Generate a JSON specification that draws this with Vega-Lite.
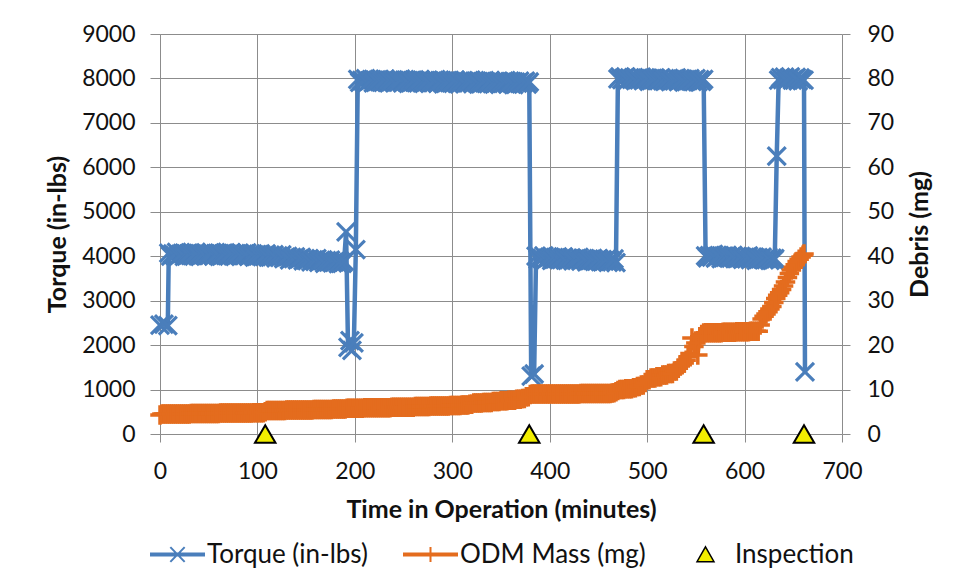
{
  "$schema": "https://vega.github.io/schema/vega-lite/v6.json",
  "width": 682,
  "height": 400,
  "autosize": "none",
  "padding": {"left": 160, "top": 34, "right": 118, "bottom": 147},
  "background": "white",
  "config": {
    "font": "Lato",
    "view": {"stroke": null},
    "axis": {
      "labelFont": "Lato", "labelFontSize": 23, "labelColor": "#111111",
      "titleFont": "Lato", "titleFontSize": 25, "titleFontWeight": "bold", "titleColor": "#111111",
      "gridColor": "#8c8c8c", "gridWidth": 1, "gridOpacity": 1,
      "domainColor": "#8c8c8c", "tickColor": "#8c8c8c", "domainWidth": 1, "tickWidth": 1
    },
    "legend": {
      "orient": "none", "direction": "horizontal", "title": null, "padding": 0,
      "labelFont": "Lato", "labelFontSize": 26, "labelColor": "#111111", "labelOffset": 2, "labelLimit": 400,
      "symbolSize": 2809, "symbolStrokeWidth": 2, "symbolOpacity": 1
    }
  },
  "datasets": {
    "torque": [
      {"t":0,"v":2450},{"t":4,"v":2470},{"t":8,"v":2440},
      {"t":9,"v":4070},{"t":11,"v":4000},{"t":13,"v":4050},{"t":15,"v":4020},{"t":17,"v":4085},{"t":19,"v":4005},{"t":21,"v":4040},{"t":23,"v":4065},{"t":25,"v":3995},{"t":27,"v":4055},
      {"t":29,"v":4030},{"t":31,"v":4075},{"t":33,"v":4015},{"t":35,"v":4045},{"t":37,"v":4080},{"t":39,"v":4010},{"t":41,"v":4060},{"t":43,"v":4025},{"t":45,"v":4070},{"t":47,"v":4000},
      {"t":49,"v":4050},{"t":51,"v":4020},{"t":53,"v":4085},{"t":55,"v":4005},{"t":57,"v":4040},{"t":59,"v":4065},{"t":61,"v":3995},{"t":63,"v":4055},{"t":65,"v":4030},{"t":67,"v":4075},
      {"t":69,"v":4015},{"t":71,"v":4045},{"t":73,"v":4080},{"t":75,"v":4010},{"t":77,"v":4060},{"t":79,"v":4025},{"t":81,"v":4069},{"t":83,"v":3997},{"t":85,"v":4045},{"t":87,"v":4013},
      {"t":89,"v":4076},{"t":91,"v":3994},{"t":93,"v":4027},{"t":95,"v":4050},{"t":97,"v":3978},{"t":99,"v":4036},{"t":101,"v":4009},{"t":103,"v":4052},{"t":105,"v":3990},{"t":107,"v":4018},
      {"t":109,"v":4051},{"t":111,"v":3979},{"t":113,"v":4027},{"t":115,"v":3990},{"t":117,"v":4033},{"t":119,"v":3961},{"t":121,"v":4007},{"t":123,"v":3972},{"t":125,"v":4032},{"t":127,"v":3946},
      {"t":129,"v":3976},{"t":131,"v":3996},{"t":133,"v":3920},{"t":135,"v":3975},{"t":137,"v":3945},{"t":139,"v":3984},{"t":141,"v":3919},{"t":143,"v":3944},{"t":145,"v":3973},{"t":147,"v":3898},
      {"t":149,"v":3943},{"t":151,"v":3903},{"t":153,"v":3945},{"t":155,"v":3871},{"t":157,"v":3918},{"t":159,"v":3884},{"t":161,"v":3946},{"t":163,"v":3862},{"t":165,"v":3894},{"t":167,"v":3915},
      {"t":169,"v":3842},{"t":171,"v":3898},{"t":173,"v":3870},{"t":175,"v":3911},{"t":177,"v":3848},{"t":179,"v":3874},{"t":181,"v":3906},{"t":183,"v":3832},{"t":185,"v":3879},{"t":187,"v":3840},
      {"t":189,"v":3882},
      {"t":191,"v":4550},{"t":193,"v":1950},{"t":195,"v":2100},{"t":197,"v":1880},{"t":199,"v":2050},{"t":201,"v":4150},
      {"t":203,"v":7980},{"t":205,"v":7909},{"t":207,"v":7959},{"t":209,"v":7928},{"t":211,"v":7993},{"t":213,"v":7912},{"t":215,"v":7947},{"t":217,"v":7971},{"t":219,"v":7900},{"t":221,"v":7960},
      {"t":223,"v":7934},{"t":225,"v":7979},{"t":227,"v":7918},{"t":229,"v":7948},{"t":231,"v":7982},{"t":233,"v":7911},{"t":235,"v":7961},{"t":237,"v":7925},{"t":239,"v":7970},{"t":241,"v":7899},
      {"t":243,"v":7949},{"t":245,"v":7918},{"t":247,"v":7982},{"t":249,"v":7902},{"t":251,"v":7936},{"t":253,"v":7961},{"t":255,"v":7890},{"t":257,"v":7950},{"t":259,"v":7924},{"t":261,"v":7968},
      {"t":263,"v":7908},{"t":265,"v":7937},{"t":267,"v":7972},{"t":269,"v":7901},{"t":271,"v":7951},{"t":273,"v":7915},{"t":275,"v":7960},{"t":277,"v":7889},{"t":279,"v":7938},{"t":281,"v":7908},
      {"t":283,"v":7972},{"t":285,"v":7892},{"t":287,"v":7926},{"t":289,"v":7951},{"t":291,"v":7880},{"t":293,"v":7939},{"t":295,"v":7914},{"t":297,"v":7958},{"t":299,"v":7898},{"t":301,"v":7927},
      {"t":303,"v":7962},{"t":305,"v":7891},{"t":307,"v":7940},{"t":309,"v":7905},{"t":311,"v":7949},{"t":313,"v":7879},{"t":315,"v":7928},{"t":317,"v":7898},{"t":319,"v":7962},{"t":321,"v":7881},
      {"t":323,"v":7916},{"t":325,"v":7940},{"t":327,"v":7870},{"t":329,"v":7929},{"t":331,"v":7904},{"t":333,"v":7948},{"t":335,"v":7887},{"t":337,"v":7917},{"t":339,"v":7951},{"t":341,"v":7881},
      {"t":343,"v":7930},{"t":345,"v":7895},{"t":347,"v":7939},{"t":349,"v":7868},{"t":351,"v":7918},{"t":353,"v":7887},{"t":355,"v":7952},{"t":357,"v":7871},{"t":359,"v":7906},{"t":361,"v":7930},
      {"t":363,"v":7859},{"t":365,"v":7919},{"t":367,"v":7893},{"t":369,"v":7938},{"t":371,"v":7877},{"t":373,"v":7906},{"t":375,"v":7941},{"t":377,"v":7870},{"t":379,"v":7920},
      {"t":381,"v":1300},{"t":384,"v":1350},
      {"t":386,"v":4000},{"t":388,"v":3928},{"t":390,"v":3976},{"t":392,"v":3944},{"t":394,"v":4007},{"t":396,"v":3925},{"t":398,"v":3958},{"t":400,"v":3981},{"t":402,"v":3909},{"t":404,"v":3967},
      {"t":406,"v":3941},{"t":408,"v":3984},{"t":410,"v":3922},{"t":412,"v":3950},{"t":414,"v":3983},{"t":416,"v":3911},{"t":418,"v":3959},{"t":420,"v":3922},{"t":422,"v":3965},{"t":424,"v":3893},
      {"t":426,"v":3941},{"t":428,"v":3909},{"t":430,"v":3973},{"t":432,"v":3891},{"t":434,"v":3924},{"t":436,"v":3947},{"t":438,"v":3875},{"t":440,"v":3933},{"t":442,"v":3906},{"t":444,"v":3949},
      {"t":446,"v":3887},{"t":448,"v":3915},{"t":450,"v":3948},{"t":452,"v":3876},{"t":454,"v":3924},{"t":456,"v":3888},{"t":458,"v":3931},{"t":460,"v":3859},{"t":462,"v":3907},{"t":464,"v":3875},
      {"t":466,"v":3938},{"t":468,"v":3856},
      {"t":470,"v":7990},{"t":472,"v":8034},{"t":474,"v":7973},{"t":476,"v":8002},{"t":478,"v":8035},{"t":480,"v":7964},{"t":482,"v":8013},{"t":484,"v":7977},{"t":486,"v":8021},{"t":488,"v":7950},
      {"t":490,"v":7999},{"t":492,"v":7967},{"t":494,"v":8031},{"t":496,"v":7950},{"t":498,"v":7984},{"t":500,"v":8008},{"t":502,"v":7937},{"t":504,"v":7996},{"t":506,"v":7970},{"t":508,"v":8013},
      {"t":510,"v":7952},{"t":512,"v":7981},{"t":514,"v":8015},{"t":516,"v":7944},{"t":518,"v":7993},{"t":520,"v":7957},{"t":522,"v":8000},{"t":524,"v":7929},{"t":526,"v":7978},{"t":528,"v":7947},
      {"t":530,"v":8011},{"t":532,"v":7930},{"t":534,"v":7964},{"t":536,"v":7987},{"t":538,"v":7916},{"t":540,"v":7975},{"t":542,"v":7949},{"t":544,"v":7993},{"t":546,"v":7932},{"t":548,"v":7961},
      {"t":550,"v":7995},{"t":552,"v":7923},{"t":554,"v":7972},{"t":556,"v":7936},{"t":558,"v":7980},
      {"t":560,"v":4010},{"t":562,"v":3963},{"t":564,"v":4011},{"t":566,"v":3979},{"t":568,"v":4042},{"t":570,"v":3960},{"t":572,"v":3993},{"t":574,"v":4016},{"t":576,"v":3944},{"t":578,"v":4002},
      {"t":580,"v":3975},{"t":582,"v":4018},{"t":584,"v":3956},{"t":586,"v":3984},{"t":588,"v":4017},{"t":590,"v":3945},{"t":592,"v":3993},{"t":594,"v":3956},{"t":596,"v":3999},{"t":598,"v":3927},
      {"t":600,"v":3975},{"t":602,"v":3943},{"t":604,"v":4006},{"t":606,"v":3924},{"t":608,"v":3957},{"t":610,"v":3980},{"t":612,"v":3908},{"t":614,"v":3966},{"t":616,"v":3939},{"t":618,"v":3982},
      {"t":620,"v":3920},{"t":622,"v":3948},{"t":624,"v":3981},{"t":626,"v":3909},{"t":628,"v":3957},{"t":630,"v":3920},{"t":631,"v":3945},
      {"t":633,"v":6250},
      {"t":635,"v":7960},{"t":637,"v":8020},{"t":639,"v":7975},{"t":641,"v":8030},{"t":643,"v":7950},{"t":645,"v":8000},{"t":647,"v":8035},{"t":649,"v":7965},{"t":651,"v":7990},{"t":653,"v":8025},
      {"t":655,"v":7945},{"t":657,"v":8010},{"t":659,"v":7980},{"t":661,"v":7960},
      {"t":662,"v":1400}
    ],
    "odm": [
      {"t":0,"m":4.3},{"t":2,"m":4.5},{"t":4,"m":4.5},{"t":6,"m":4.5},{"t":8,"m":4.5},{"t":10,"m":4.5},{"t":12,"m":4.5},{"t":14,"m":4.5},{"t":16,"m":4.5},{"t":18,"m":4.5},
      {"t":20,"m":4.5},{"t":22,"m":4.5},{"t":24,"m":4.5},{"t":26,"m":4.5},{"t":28,"m":4.5},{"t":30,"m":4.5},{"t":32,"m":4.6},{"t":34,"m":4.6},{"t":36,"m":4.6},{"t":38,"m":4.6},
      {"t":40,"m":4.6},{"t":42,"m":4.6},{"t":44,"m":4.6},{"t":46,"m":4.6},{"t":48,"m":4.6},{"t":50,"m":4.6},{"t":52,"m":4.6},{"t":54,"m":4.6},{"t":56,"m":4.6},{"t":58,"m":4.6},
      {"t":60,"m":4.6},{"t":62,"m":4.7},{"t":64,"m":4.7},{"t":66,"m":4.7},{"t":68,"m":4.7},{"t":70,"m":4.7},{"t":72,"m":4.7},{"t":74,"m":4.7},{"t":76,"m":4.7},{"t":78,"m":4.7},
      {"t":80,"m":4.7},{"t":82,"m":4.7},{"t":84,"m":4.7},{"t":86,"m":4.7},{"t":88,"m":4.7},{"t":90,"m":4.7},{"t":92,"m":4.7},{"t":94,"m":4.7},{"t":96,"m":4.8},{"t":98,"m":4.8},
      {"t":100,"m":4.8},{"t":102,"m":4.8},{"t":104,"m":4.8},{"t":106,"m":4.8},{"t":108,"m":5.0},{"t":110,"m":5.3},{"t":112,"m":5.3},{"t":114,"m":5.3},{"t":116,"m":5.3},{"t":118,"m":5.3},
      {"t":120,"m":5.3},{"t":122,"m":5.3},{"t":124,"m":5.3},{"t":126,"m":5.3},{"t":128,"m":5.3},{"t":130,"m":5.4},{"t":132,"m":5.4},{"t":134,"m":5.4},{"t":136,"m":5.4},{"t":138,"m":5.4},
      {"t":140,"m":5.4},{"t":142,"m":5.4},{"t":144,"m":5.4},{"t":146,"m":5.4},{"t":148,"m":5.4},{"t":150,"m":5.4},{"t":152,"m":5.4},{"t":154,"m":5.4},{"t":156,"m":5.4},{"t":158,"m":5.5},
      {"t":160,"m":5.5},{"t":162,"m":5.5},{"t":164,"m":5.5},{"t":166,"m":5.5},{"t":168,"m":5.5},{"t":170,"m":5.5},{"t":172,"m":5.5},{"t":174,"m":5.5},{"t":176,"m":5.5},{"t":178,"m":5.6},
      {"t":180,"m":5.6},{"t":182,"m":5.6},{"t":184,"m":5.6},{"t":186,"m":5.6},{"t":188,"m":5.6},{"t":190,"m":5.6},{"t":192,"m":5.8},{"t":194,"m":5.8},{"t":196,"m":5.8},{"t":198,"m":5.8},
      {"t":200,"m":5.8},{"t":202,"m":5.8},{"t":204,"m":5.8},{"t":206,"m":5.8},{"t":208,"m":5.8},{"t":210,"m":5.9},{"t":212,"m":5.9},{"t":214,"m":5.9},{"t":216,"m":5.9},{"t":218,"m":5.9},
      {"t":220,"m":5.9},{"t":222,"m":5.9},{"t":224,"m":5.9},{"t":226,"m":5.9},{"t":228,"m":5.9},{"t":230,"m":5.9},{"t":232,"m":5.9},{"t":234,"m":5.9},{"t":236,"m":5.9},{"t":238,"m":6.0},
      {"t":240,"m":6.0},{"t":242,"m":6.0},{"t":244,"m":6.0},{"t":246,"m":6.0},{"t":248,"m":6.0},{"t":250,"m":6.0},{"t":252,"m":6.0},{"t":254,"m":6.0},{"t":256,"m":6.0},{"t":258,"m":6.0},
      {"t":260,"m":6.0},{"t":262,"m":6.2},{"t":264,"m":6.2},{"t":266,"m":6.2},{"t":268,"m":6.2},{"t":270,"m":6.2},{"t":272,"m":6.2},{"t":274,"m":6.2},{"t":276,"m":6.2},{"t":278,"m":6.3},
      {"t":280,"m":6.3},{"t":282,"m":6.3},{"t":284,"m":6.3},{"t":286,"m":6.3},{"t":288,"m":6.3},{"t":290,"m":6.3},{"t":292,"m":6.3},{"t":294,"m":6.3},{"t":296,"m":6.3},{"t":298,"m":6.4},
      {"t":300,"m":6.4},{"t":302,"m":6.4},{"t":304,"m":6.4},{"t":306,"m":6.4},{"t":308,"m":6.4},{"t":310,"m":6.5},{"t":312,"m":6.5},{"t":314,"m":6.5},{"t":316,"m":6.5},{"t":318,"m":6.7},
      {"t":320,"m":6.7},{"t":322,"m":7.0},{"t":324,"m":7.0},{"t":326,"m":7.0},{"t":328,"m":7.0},{"t":330,"m":7.0},{"t":332,"m":7.1},{"t":334,"m":7.1},{"t":336,"m":7.1},{"t":338,"m":7.1},
      {"t":340,"m":7.1},{"t":342,"m":7.3},{"t":344,"m":7.3},{"t":346,"m":7.3},{"t":348,"m":7.3},{"t":350,"m":7.5},{"t":352,"m":7.5},{"t":354,"m":7.5},{"t":356,"m":7.5},{"t":358,"m":7.6},
      {"t":360,"m":7.6},{"t":362,"m":7.6},{"t":364,"m":7.6},{"t":366,"m":7.8},{"t":368,"m":7.8},{"t":370,"m":7.8},{"t":372,"m":8.0},{"t":374,"m":8.0},{"t":376,"m":8.4},{"t":378,"m":8.4},
      {"t":380,"m":8.9},{"t":382,"m":9.0},{"t":384,"m":9.0},{"t":386,"m":9.0},{"t":388,"m":9.0},{"t":390,"m":9.0},{"t":392,"m":9.0},{"t":394,"m":9.0},{"t":396,"m":9.0},{"t":398,"m":9.0},
      {"t":400,"m":9.0},{"t":402,"m":9.0},{"t":404,"m":9.0},{"t":406,"m":9.0},{"t":408,"m":9.0},{"t":410,"m":9.0},{"t":412,"m":9.0},{"t":414,"m":9.0},{"t":416,"m":9.0},{"t":418,"m":9.0},
      {"t":420,"m":9.0},{"t":422,"m":9.0},{"t":424,"m":9.0},{"t":426,"m":9.0},{"t":428,"m":9.0},{"t":430,"m":9.0},{"t":432,"m":9.1},{"t":434,"m":9.1},{"t":436,"m":9.1},{"t":438,"m":9.1},
      {"t":440,"m":9.1},{"t":442,"m":9.1},{"t":444,"m":9.1},{"t":446,"m":9.1},{"t":448,"m":9.1},{"t":450,"m":9.1},{"t":452,"m":9.1},{"t":454,"m":9.1},{"t":456,"m":9.1},{"t":458,"m":9.1},
      {"t":460,"m":9.1},{"t":462,"m":9.1},{"t":464,"m":9.2},{"t":466,"m":9.3},{"t":468,"m":9.5},{"t":470,"m":9.8},{"t":472,"m":10.0},{"t":474,"m":10.0},{"t":476,"m":10.0},{"t":478,"m":10.2},
      {"t":480,"m":10.2},{"t":482,"m":10.2},{"t":484,"m":10.2},{"t":486,"m":10.4},{"t":488,"m":10.4},{"t":490,"m":10.7},{"t":492,"m":10.7},{"t":494,"m":11.0},{"t":496,"m":11.0},{"t":498,"m":11.6},
      {"t":500,"m":12.2},{"t":502,"m":12.2},{"t":504,"m":12.6},{"t":506,"m":12.6},{"t":508,"m":12.6},{"t":510,"m":12.9},{"t":512,"m":12.9},{"t":514,"m":12.9},{"t":516,"m":13.3},{"t":518,"m":13.3},
      {"t":520,"m":13.3},{"t":522,"m":13.6},{"t":524,"m":13.6},{"t":526,"m":13.6},{"t":528,"m":14.2},{"t":530,"m":14.2},{"t":532,"m":14.8},{"t":534,"m":15.3},{"t":536,"m":15.6},{"t":538,"m":16.0},
      {"t":540,"m":16.6},{"t":542,"m":17.4},{"t":544,"m":18.1},{"t":546,"m":21.6},{"t":548,"m":19.7},{"t":550,"m":20.5},{"t":552,"m":17.8},{"t":554,"m":21.9},{"t":556,"m":22.4},{"t":558,"m":22.7},
      {"t":560,"m":22.8},{"t":562,"m":22.8},{"t":564,"m":22.8},{"t":566,"m":22.8},{"t":568,"m":22.8},{"t":570,"m":22.8},{"t":572,"m":22.8},{"t":574,"m":22.8},{"t":576,"m":22.8},{"t":578,"m":22.9},
      {"t":580,"m":22.9},{"t":582,"m":22.9},{"t":584,"m":22.9},{"t":586,"m":22.9},{"t":588,"m":22.9},{"t":590,"m":22.9},{"t":592,"m":23.0},{"t":594,"m":23.0},{"t":596,"m":23.0},{"t":598,"m":23.0},
      {"t":600,"m":23.0},{"t":602,"m":23.0},{"t":604,"m":23.0},{"t":606,"m":23.1},{"t":608,"m":23.1},{"t":610,"m":23.1},{"t":612,"m":23.1},{"t":614,"m":23.1},{"t":616,"m":24.5},{"t":618,"m":25.9},
      {"t":620,"m":26.5},{"t":622,"m":27.0},{"t":624,"m":27.5},{"t":626,"m":28.1},{"t":628,"m":28.7},{"t":630,"m":29.6},{"t":632,"m":30.5},{"t":634,"m":31.2},{"t":636,"m":31.8},{"t":638,"m":32.5},
      {"t":640,"m":33.3},{"t":642,"m":34.2},{"t":644,"m":35.2},{"t":646,"m":36.1},{"t":648,"m":36.9},{"t":650,"m":37.5},{"t":652,"m":38.1},{"t":654,"m":38.8},{"t":656,"m":39.3},{"t":658,"m":39.8},
      {"t":660,"m":40.2},{"t":661,"m":40.5}
    ],
    "insp": [
      {"t":108,"m":0},{"t":379,"m":0},{"t":558,"m":0},{"t":661,"m":0}
    ]
  },
  "layer": [
    {
      "data": {"name": "torque"},
      "layer": [
        {
          "mark": {"type": "line", "color": "#4A7EBB", "strokeWidth": 4.5},
          "encoding": {
            "x": {"field": "t", "type": "quantitative", "scale": {"domain": [0, 700], "nice": false, "zero": false, "padding": 0},
              "axis": {"title": "Time in Operation (minutes)", "values": [0,100,200,300,400,500,600,700], "format": "d", "labelFlush": false, "tickSize": 8, "labelPadding": 18, "titlePadding": 14, "grid": true, "domain": false}},
            "y": {"field": "v", "type": "quantitative", "scale": {"domain": [0, 9000], "nice": false, "zero": true, "padding": 0},
              "axis": {"title": "Torque (in-lbs)", "values": [0,1000,2000,3000,4000,5000,6000,7000,8000,9000], "format": "d", "labelFlush": false, "tickSize": 10, "labelPadding": 15, "titlePadding": 11, "titleAngle": 270, "grid": true, "domain": true}}
          }
        },
        {
          "mark": {"type": "point", "shape": "M-1,-1L1,1M-1,1L1,-1", "size": 324, "filled": false, "strokeWidth": 3.2, "opacity": 1},
          "encoding": {
            "x": {"field": "t", "type": "quantitative", "scale": {"domain": [0, 700], "nice": false, "zero": false, "padding": 0}},
            "y": {"field": "v", "type": "quantitative"},
            "color": {
              "datum": "Torque (in-lbs)",
              "scale": {"domain": ["Torque (in-lbs)"], "range": ["#4A7EBB"]},
              "legend": {"legendX": -10, "legendY": 493, "symbolType": "M-1,-0.035H1V0.035H-1ZM-0.27,-0.28L0.27,0.28M-0.27,0.28L0.27,-0.28"}
            }
          }
        }
      ]
    },
    {
      "layer": [
        {
          "data": {"name": "odm"},
          "mark": {"type": "line", "color": "#E46C1E", "strokeWidth": 4},
          "encoding": {
            "x": {"field": "t", "type": "quantitative", "scale": {"domain": [0, 700], "nice": false, "zero": false, "padding": 0}},
            "y": {"field": "m", "type": "quantitative", "scale": {"domain": [0, 90], "nice": false, "zero": true, "padding": 0},
              "axis": {"orient": "right", "title": "Debris (mg)", "values": [0,10,20,30,40,50,60,70,80,90], "format": "d", "labelFlush": false, "tickSize": 8, "labelPadding": 17, "titlePadding": 14, "titleAngle": 270, "titleBaseline": "top", "grid": false, "domain": false}}
          }
        },
        {
          "data": {"name": "odm"},
          "mark": {"type": "point", "shape": "M-1,0H1M0,-1V1", "size": 380, "filled": false, "strokeWidth": 3.5, "opacity": 1},
          "encoding": {
            "x": {"field": "t", "type": "quantitative", "scale": {"domain": [0, 700], "nice": false, "zero": false, "padding": 0}},
            "y": {"field": "m", "type": "quantitative"},
            "stroke": {
              "datum": "ODM Mass (mg)",
              "scale": {"domain": ["ODM Mass (mg)"], "range": ["#E46C1E"]},
              "legend": {"legendX": 243, "legendY": 493, "symbolType": "M-1,-0.035H1V0.035H-1ZM0,-0.28V0.28"}
            }
          }
        },
        {
          "data": {"name": "insp"},
          "mark": {"type": "point", "shape": "triangle-up", "size": 420, "filled": true, "stroke": "#000000", "strokeWidth": 2, "opacity": 1},
          "encoding": {
            "x": {"field": "t", "type": "quantitative", "scale": {"domain": [0, 700], "nice": false, "zero": false, "padding": 0}},
            "y": {"field": "m", "type": "quantitative"},
            "fill": {
              "datum": "Inspection",
              "scale": {"domain": ["Inspection"], "range": ["#F2EE00"]},
              "legend": {"legendX": 518, "legendY": 493, "symbolType": "M0,-0.29L0.32,0.27L-0.32,0.27Z", "symbolStrokeColor": "#000000", "symbolStrokeWidth": 1.5}
            }
          }
        }
      ]
    }
  ],
  "resolve": {"scale": {"y": "independent"}}
}
